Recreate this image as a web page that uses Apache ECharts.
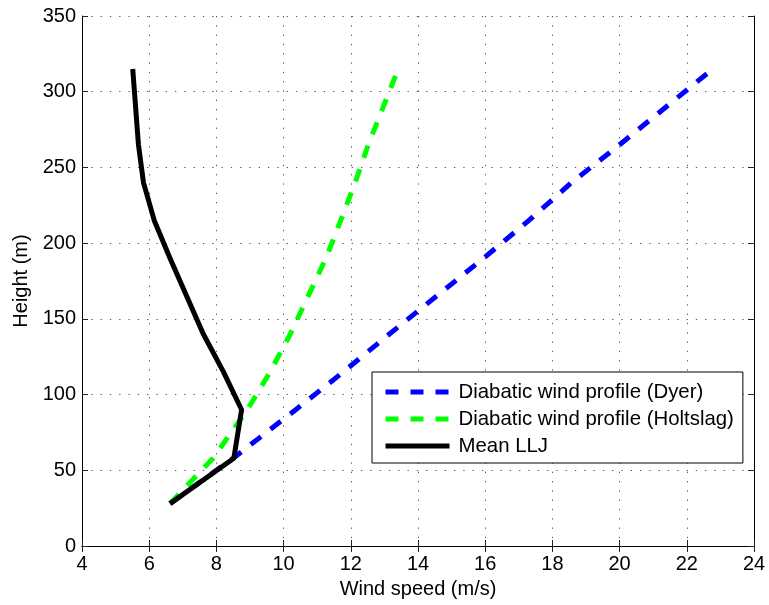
<!DOCTYPE html>
<html><head><meta charset="utf-8">
<script src="https://cdn.jsdelivr.net/npm/echarts@6/dist/echarts.min.js"></script>
<style>html,body{margin:0;padding:0;background:#fff}#c{width:769px;height:605px}</style>
</head><body><div id="c"></div>
<script>
const heights = [28, 58, 90, 115, 140, 190, 215, 240, 265, 315];
const dyer = [6.62, 8.5, 10.36, 11.78, 13.15, 15.95, 17.3, 18.57, 20.0, 22.77];
const holtslag = [6.62, 7.9, 8.92, 9.6, 10.2, 11.26, 11.7, 12.13, 12.52, 13.41];
const llj = [6.62, 8.52, 8.75, 8.21, 7.61, 6.62, 6.15, 5.83, 5.68, 5.51];
const seriesNames = ['Diabatic wind profile (Dyer)', 'Diabatic wind profile (Holtslag)', 'Mean LLJ'];
const xTicks = [4, 6, 8, 10, 12, 14, 16, 18, 20, 22, 24];
const yTicks = [0, 50, 100, 150, 200, 250, 300, 350];

const font = 'Liberation Sans, Arial, Helvetica, sans-serif';
const fs = 20;
const pairs = v => v.map((s, i) => [s, heights[i]]);
const chart = echarts.init(document.getElementById('c'));
const grid = {left: 82, right: 15, top: 16, bottom: 59};
const splitLine = {show: true, lineStyle: {color: '#555', width: 1, type: [1.3, 8]}};
const baseX = {type: 'value', min: xTicks[0], max: xTicks[xTicks.length-1], interval: 2};
const baseY = {type: 'value', min: yTicks[0], max: yTicks[yTicks.length-1], interval: 50};
const dash = [13, 12];
const tick = {show: true, inside: true, length: 6, lineStyle: {color: '#222'}};
chart.setOption({
  animation: false,
  grid: grid,
  xAxis: [
    Object.assign({}, baseX, {
      position: 'bottom',
      name: 'Wind speed (m/s)', nameLocation: 'middle', nameGap: 33,
      nameTextStyle: {fontFamily: font, fontSize: fs, color: '#000'},
      axisLine: {show: true, lineStyle: {color: '#000', width: 1}},
      axisTick: tick,
      axisLabel: {fontFamily: font, fontSize: fs, color: '#000', margin: 8},
      splitLine: splitLine
    }),
    Object.assign({}, baseX, {
      position: 'top',
      axisLine: {show: true, lineStyle: {color: '#000', width: 1}},
      axisTick: tick,
      axisLabel: {show: false}, splitLine: {show: false}
    })
  ],
  yAxis: [
    Object.assign({}, baseY, {
      position: 'left',
      name: 'Height (m)', nameLocation: 'middle', nameGap: 50, nameRotate: 90,
      nameTextStyle: {fontFamily: font, fontSize: fs, color: '#000'},
      axisLine: {show: true, lineStyle: {color: '#000', width: 1}},
      axisTick: tick,
      axisLabel: {fontFamily: font, fontSize: fs, color: '#000', margin: 6},
      splitLine: splitLine
    }),
    Object.assign({}, baseY, {
      position: 'right',
      axisLine: {show: true, lineStyle: {color: '#000', width: 1}},
      axisTick: tick,
      axisLabel: {show: false}, splitLine: {show: false}
    })
  ],
  legend: {
    show: true,
    orient: 'vertical', left: 372, top: 372,
    backgroundColor: '#fff', borderColor: '#000', borderWidth: 1,
    padding: [10, 9, 7, 11],
    itemWidth: 64, itemHeight: 14, itemGap: 7,
    itemStyle: {opacity: 0},
    textStyle: {fontFamily: font, fontSize: 20.4, color: '#000', padding: [0, 0, 0, 4]},
    data: [
      {name: seriesNames[0], lineStyle: {width: 5, type: dash, color: '#0000ff'}},
      {name: seriesNames[1], lineStyle: {width: 5, type: dash, color: '#00ff00'}},
      {name: seriesNames[2], lineStyle: {width: 5, type: 'solid', color: '#000'}}
    ]
  },
  series: [
    {name: seriesNames[0], type: 'line', data: pairs(dyer), symbol: 'none', showSymbol: false, xAxisIndex: 0, yAxisIndex: 0,
     lineStyle: {color: '#0000ff', width: 5, type: dash, cap: 'butt'}, itemStyle: {color: '#0000ff'}},
    {name: seriesNames[1], type: 'line', data: pairs(holtslag), symbol: 'none', showSymbol: false, xAxisIndex: 0, yAxisIndex: 0,
     lineStyle: {color: '#00ff00', width: 5, type: dash, cap: 'butt'}, itemStyle: {color: '#00ff00'}},
    {name: seriesNames[2], type: 'line', data: pairs(llj), symbol: 'none', showSymbol: false, xAxisIndex: 0, yAxisIndex: 0,
     lineStyle: {color: '#000000', width: 5, type: 'solid'}, itemStyle: {color: '#000'}}
  ]
});
</script></body></html>
